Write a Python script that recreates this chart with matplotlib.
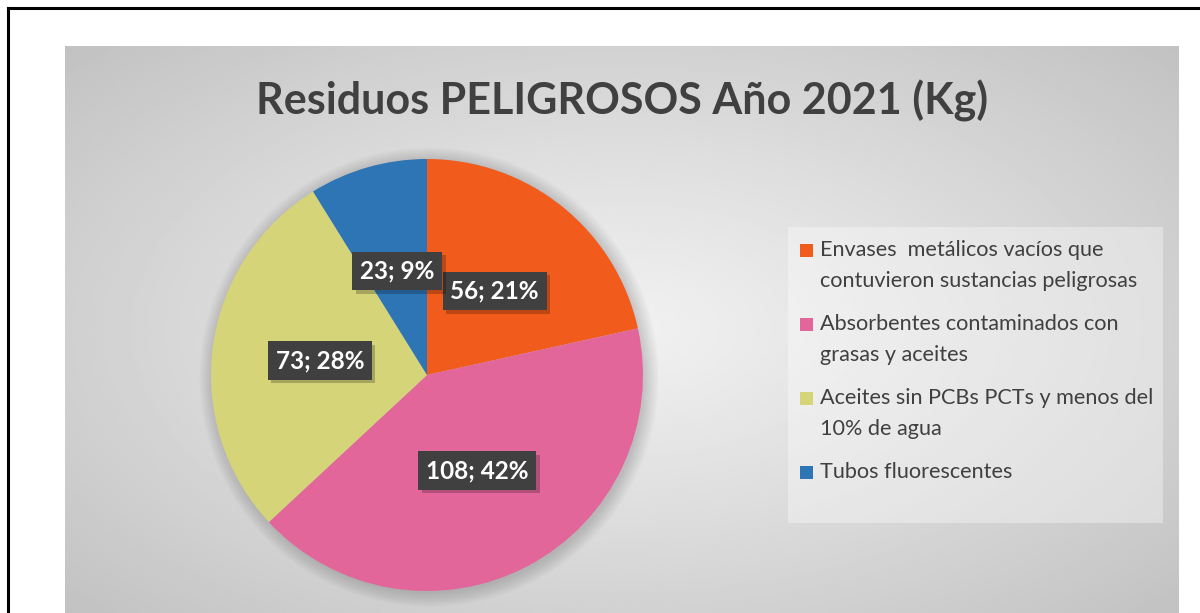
"""Residuos peligrosos 2021: pie chart with Excel-like styling."""

import matplotlib.patheffects as pe
import matplotlib.pyplot as plt
import numpy as np
from matplotlib.lines import Line2D
from matplotlib.patches import Circle, Rectangle

title = "Residuos PELIGROSOS Año 2021 (Kg)"
categories = [
    "Envases  metálicos vacíos que\ncontuvieron sustancias peligrosas",
    "Absorbentes contaminados con\ngrasas y aceites",
    "Aceites sin PCBs PCTs y menos del\n10% de agua",
    "Tubos fluorescentes",
]
values_kg = [56, 108, 73, 23]
percent_labels = [21, 42, 28, 9]
colors = ["#F15B1B", "#E3669A", "#D5D479", "#2E75B6"]

W, H = 1200, 613
TEXT_DARK = "#404040"
FONT = "Lato"


def fx(px):
    return px / W


def fy(py):
    return 1 - py / H


fig = plt.figure(figsize=(W / 100, H / 100), dpi=100)
fig.patch.set_facecolor("white")

# gray chart area with a soft radial gradient
bg_left, bg_right, bg_top = 65, 1179, 46
bg = fig.add_axes([fx(bg_left), 0, fx(bg_right - bg_left), fy(bg_top)])
gx, gy = np.meshgrid(np.linspace(-1, 1, 400), np.linspace(-1, 1, 200))
dist = np.clip(np.sqrt(gx**2 + (gy * 0.95) ** 2) / np.sqrt(2), 0, 1)
shade = 0.945 - 0.19 * dist**1.1
bg.imshow(shade, cmap="gray", vmin=0, vmax=1, aspect="auto", extent=(0, 1, 0, 1))
bg.set_xlim(0, 1)
bg.set_ylim(0, 1)
bg.axis("off")

# document frame lines
fig.add_artist(Line2D([fx(8), 1], [fy(8), fy(8)], color="black", linewidth=2.2))
fig.add_artist(Line2D([fx(8), fx(8)], [fy(8), 0], color="black", linewidth=2.2))

# pie
cx, cy, radius = 427, 375, 216
ax = fig.add_axes([fx(cx - radius), 1 - (cy + radius) / H, fx(2 * radius), 2 * radius / H])

labels = [f"{v}; {p}%" for v, p in zip(values_kg, percent_labels)]
wedges, texts = ax.pie(
    values_kg,
    colors=colors,
    startangle=90,
    counterclock=False,
    radius=1.0,
    labels=labels,
    labeldistance=0.5,
    wedgeprops={"linewidth": 0},
    textprops={"color": "white", "fontsize": 17.5, "fontweight": "bold",
               "family": FONT, "ha": "center", "va": "center"},
)
ax.set_xlim(-1, 1)
ax.set_ylim(-1, 1)
ax.set_aspect("equal")
ax.axis("off")

# soft shadow around the pie
for k in range(10):
    ax.add_patch(Circle((0.01, -0.01), 1.0 + 0.007 * k, color="black",
                        alpha=0.016, linewidth=0, zorder=0, clip_on=False))
for wedge in wedges:
    wedge.set_zorder(1)
for t in texts:
    t.set_zorder(5)
    t.set_bbox({"boxstyle": "square,pad=0.32", "facecolor": "#404040", "linewidth": 0})
    t.get_bbox_patch().set_path_effects(
        [pe.withSimplePatchShadow(offset=(2.5, -2.5), shadow_rgbFace="black", alpha=0.22), pe.Normal()]
    )

# title
fig.text(fx(622), fy(101), title, ha="center", va="center", fontsize=31,
         fontweight="bold", family=FONT, color=TEXT_DARK)

# legend box
leg_left, leg_top, leg_right, leg_bottom = 788, 227, 1163, 523
fig.add_artist(Rectangle((fx(leg_left), fy(leg_bottom)), fx(leg_right - leg_left),
                         (leg_bottom - leg_top) / H, transform=fig.transFigure,
                         facecolor="white", alpha=0.35, linewidth=0))
entry_y = [250, 324, 398, 472]
line_gap = 31
for label, color, y in zip(categories, colors, entry_y):
    fig.add_artist(Rectangle((fx(800), fy(y + 7)), fx(13), 13 / H,
                             transform=fig.transFigure, facecolor=color, linewidth=0))
    for j, line in enumerate(label.split("\n")):
        fig.text(fx(820), fy(y + j * line_gap), line, ha="left", va="center",
                 fontsize=15.6, family=FONT, color=TEXT_DARK)

fig.savefig("out.png", dpi=100)
